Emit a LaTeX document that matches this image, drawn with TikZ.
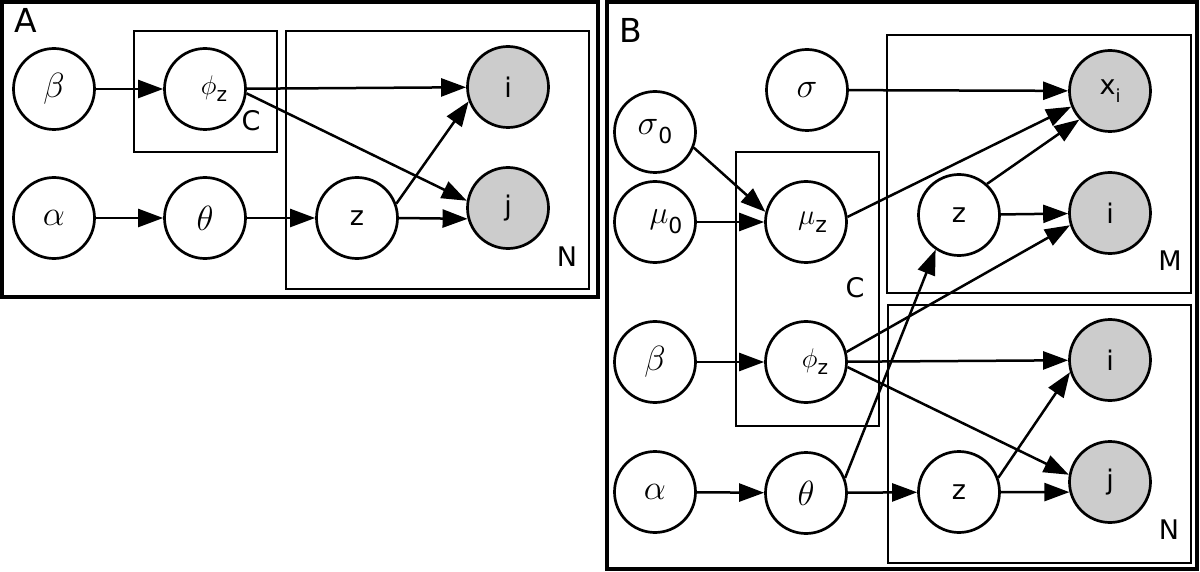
\RequirePackage{fix-cm}
\documentclass[tikz,border=0pt]{standalone}
\usepackage{fontspec}
\setmainfont{DejaVu Sans}
\usetikzlibrary{arrows.meta}
\newcommand{\gsub}[3]{\raisebox{-#2}{\fontsize{#1}{#1}\selectfont #3}}
\newcommand{\bigfont}{\fontsize{35}{35}\selectfont}
\tikzset{
  var/.style={circle, draw, line width=2.7pt, minimum size=81pt, inner sep=0pt, fill=white,
              font=\fontsize{27}{27}\selectfont},
  obs/.style={var, fill=gray!40},
  plate/.style={draw, line width=2.7pt},
  panel/.style={draw, line width=3.2pt},
  platelabel/.style={inner sep=0pt, font=\fontsize{27}{27}\selectfont},
  panellabel/.style={inner sep=0pt, font=\fontsize{33}{33}\selectfont},
  edge/.style={-{Triangle[length=25pt,width=18pt]}, line width=2.5pt}
}
\begin{document}
\begin{tikzpicture}[x=1pt,y=-1pt]
\useasboundingbox (0,0) rectangle (1200,572);
% ---------------- Panel A ----------------
\draw[panel] (2,2) rectangle (598,297);
\node[panellabel] (lA) at (26,20) {A};
\draw[plate] (134,31) rectangle (277,152);
\draw[plate] (286,31) rectangle (589,289);
\node[platelabel] (lAC) at (251,121) {C};
\node[platelabel] (lAN) at (567,257) {N};

\node[var] (beta) at (54,89) {\bigfont$\beta$};
\node[var] (phi) at (205,89) {\hspace*{18pt}\fontsize{27}{27}\selectfont$\phi$\gsub{20}{7pt}{z}};
\node[var] (alpha) at (54,218) {\bigfont$\alpha$};
\node[var] (theta) at (205,218) {\bigfont$\theta$};
\node[var] (z) at (357,218) {z};
\node[obs] (i) at (508,87) {i};
\node[obs] (j) at (508,208) {j};

\draw[edge] (beta) -- (phi);
\draw[edge] (phi) -- (i);
\draw[edge] (phi.-6) -- (j.170);
\draw[edge] (alpha) -- (theta);
\draw[edge] (theta) -- (z);
\draw[edge] (z.20) -- (i.200);
\draw[edge] (z.east) -- (j.195);

% ---------------- Panel B ----------------
\draw[panel] (607,2) rectangle (1197,569);
\node[panellabel] (lB) at (631,30) {B};
\draw[plate] (736,152) rectangle (879,426);
\draw[plate] (887,35) rectangle (1191,293);
\draw[plate] (888,305) rectangle (1191,563);
\node[platelabel] (lBC) at (855,288) {C};
\node[platelabel] (lBM) at (1170,261) {M};
\node[platelabel] (lBN) at (1169,530) {N};

\node[var] (sigma) at (807,90) {\bigfont$\sigma$};
\node[obs] (xi) at (1110,91) {x\gsub{18}{8pt}{i}};
\node[var] (sigma0) at (655,132) {\bigfont$\sigma$\gsub{22}{9pt}{0}};
\node[var] (mu0) at (655,222) {\hspace*{22pt}\fontsize{32}{32}\selectfont$\mu$\gsub{22}{10pt}{0}};
\node[var] (muz) at (806,222) {\hspace*{13pt}\fontsize{29}{29}\selectfont$\mu$\gsub{22}{8pt}{z}};
\node[var] (zt) at (959,215) {z};
\node[obs] (it) at (1110,213) {i};
\node[var] (betaB) at (655,362) {\bigfont$\beta$};
\node[var] (phiB) at (806,362) {\hspace*{18pt}\fontsize{27}{27}\selectfont$\phi$\gsub{20}{7pt}{z}};
\node[obs] (ib) at (1110,360) {i};
\node[var] (alphaB) at (655,492) {\bigfont$\alpha$};
\node[var] (thetaB) at (806,493) {\bigfont$\theta$};
\node[var] (zb) at (959,492) {z};
\node[obs] (jb) at (1110,482) {j};

\draw[edge] (sigma) -- (xi);
\draw[edge] (sigma0.-22) -- (muz.166);
\draw[edge] (mu0) -- (muz);
\draw[edge] (muz.7) -- (xi.202);
\draw[edge] (zt.48) -- (xi.223);
\draw[edge] (zt) -- (it);
\draw[edge] (phiB.14) -- (it.197);
\draw[edge] (thetaB.21) -- (zt.236);
\draw[edge] (betaB) -- (phiB);
\draw[edge] (phiB) -- (ib);
\draw[edge] (phiB.-7) -- (jb.170);
\draw[edge] (alphaB) -- (thetaB);
\draw[edge] (thetaB) -- (zb);
\draw[edge] (zb.20) -- (ib.197);
\draw[edge] (zb.east) -- (jb.194);
\end{tikzpicture}
\end{document}
